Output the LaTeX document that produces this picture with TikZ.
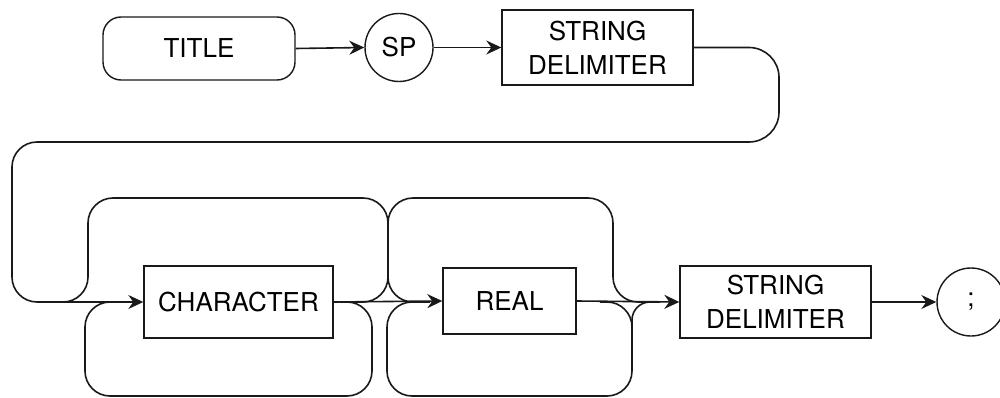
\documentclass[tikz,border=0pt]{standalone}
\usepackage{fontspec}
\setmainfont{TeX Gyre Heros}
\usetikzlibrary{arrows.meta}
\begin{document}
\begin{tikzpicture}[x=1pt,y=-1pt,
  line/.style={line width=1.6pt, draw=black!90},
  flow/.style={line, -{Stealth[length=15pt,width=14pt,inset=5pt]}},
  lbl/.style={draw=black!90, line width=1.4pt, inner sep=0pt, align=center,
              font=\fontsize{26}{34}\selectfont},
  termbox/.style={lbl, rounded corners=18pt},
  ntbox/.style={lbl},
  circ/.style={lbl, circle, minimum size=68pt}
]
\useasboundingbox (0,0) rectangle (1000,398);

% nodes
\node[termbox, minimum width=192pt, minimum height=63pt] (title) at (199,48.5) {TITLE};
\node[circ] (sp) at (399,47.5) {SP};
\node[ntbox, minimum width=191pt, minimum height=75pt] (sd1) at (597.5,47.5) {STRING\\DELIMITER};
\node[ntbox, minimum width=189pt, minimum height=72pt] (char) at (238.5,302) {CHARACTER};
\node[ntbox, minimum width=133pt, minimum height=66pt] (real) at (509.5,301) {REAL};
\node[ntbox, minimum width=191pt, minimum height=72pt] (sd2) at (775.5,302) {STRING\\DELIMITER};
\node[circ] (semi) at (971,302) {;};

% coordinates
\coordinate (r1) at (779,47.5);
\coordinate (r2) at (779,142);
\coordinate (l1) at (12,142);
\coordinate (l2) at (12,302);

% top row
\draw[flow] (title.east) -- (sp.west);
\draw[flow] (sp.east) -- (sd1.west);
\draw[flow, rounded corners=30pt] (sd1.east) -- (r1) -- (r2)
   [rounded corners=25pt] -- (l1) -- (l2) -- (char.west);

% main line
\draw[flow] (char.east) -- (real.west);
\draw[flow] (real.east) -- (sd2.west);
\draw[flow] (sd2.east) -- (semi.west);

% loop coordinates
\coordinate (a0) at (40,302);
\coordinate (a1) at (88,302);
\coordinate (a2) at (88,198);
\coordinate (a3) at (388,198);
\coordinate (a4) at (388,302);
\coordinate (a5) at (422,302);

\coordinate (b0) at (345,302);
\coordinate (b1) at (388,302);
\coordinate (b2) at (388,198);
\coordinate (b3) at (613,198);
\coordinate (b4) at (613,302);
\coordinate (b5) at (655,302);

\coordinate (c0) at (340,302);
\coordinate (c1) at (372,302);
\coordinate (c2) at (372,396);
\coordinate (c3) at (85,396);
\coordinate (c4) at (85,302);
\coordinate (c5) at (125,302);

\coordinate (d0) at (430,302);
\coordinate (d1) at (387,302);
\coordinate (d2) at (387,396);
\coordinate (d3) at (632,396);
\coordinate (d4) at (632,302);
\coordinate (d5) at (600,302);
\coordinate (e0) at (632,345);
\coordinate (e1) at (660,302);

% upper (bypass) loops
\draw[line, rounded corners=25pt] (a0) -- (a1) -- (a2) -- (a3) -- (a4) -- (a5);
\draw[line, rounded corners=25pt] (b0) -- (b1) -- (b2) -- (b3) -- (b4) -- (b5);
% lower (repeat) loops
\draw[line, rounded corners=25pt] (c0) -- (c1) -- (c2) -- (c3) -- (c4) -- (c5);
\draw[line, rounded corners=25pt] (d0) -- (d1) -- (d2) -- (d3) -- (d4) -- (d5);
\draw[line, rounded corners=18pt] (e0) -- (d4) -- (e1);
\end{tikzpicture}
\end{document}
